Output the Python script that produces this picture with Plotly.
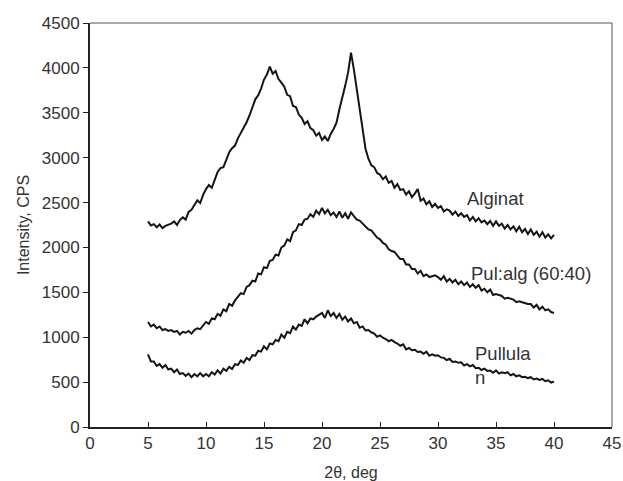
import numpy as np
import plotly.graph_objects as go

two_theta = np.arange(5.0, 40.0001, 0.25)

alginat = [
    2290, 2245, 2260, 2225,
    2255, 2215, 2240, 2250,
    2265, 2290, 2250, 2305,
    2335, 2310, 2395, 2420,
    2470, 2525, 2495, 2585,
    2650, 2695, 2665, 2765,
    2840, 2885, 2895, 2975,
    3060, 3105, 3135, 3215,
    3270, 3335, 3395, 3470,
    3555, 3650, 3695, 3770,
    3870, 3925, 4015, 3935,
    3965, 3875, 3835, 3790,
    3700, 3685, 3575, 3565,
    3480, 3445, 3375, 3405,
    3330, 3305, 3245, 3275,
    3195, 3235, 3185, 3265,
    3320, 3390, 3540, 3660,
    3800, 3950, 4170, 3980,
    3760, 3540, 3320, 3100,
    2990, 2915, 2895, 2830,
    2810, 2760, 2790, 2720,
    2740, 2665, 2705, 2640,
    2650, 2590, 2625, 2560,
    2600, 2650, 2520, 2545,
    2480, 2515, 2450, 2485,
    2440, 2460, 2400, 2425,
    2410, 2365, 2400, 2350,
    2380, 2340, 2360, 2300,
    2340, 2290, 2325, 2280,
    2300, 2260, 2295, 2240,
    2290, 2240, 2265, 2210,
    2250, 2200, 2235, 2180,
    2230, 2170, 2205, 2150,
    2200, 2140, 2175, 2120,
    2170, 2110, 2145, 2100,
    2140,
]

pul_alg = [
    1170, 1120, 1140, 1100,
    1120, 1080, 1090, 1070,
    1080, 1060, 1070, 1030,
    1060, 1050, 1070, 1040,
    1080, 1100, 1090, 1130,
    1170, 1150, 1210, 1200,
    1260, 1240, 1310, 1290,
    1370, 1350, 1410, 1450,
    1490, 1480, 1560, 1580,
    1630, 1620, 1710, 1700,
    1780, 1770, 1850, 1860,
    1920, 1910, 2000, 2020,
    2090, 2070, 2170, 2190,
    2260, 2250, 2310, 2320,
    2370, 2340, 2410, 2370,
    2440, 2380, 2420, 2360,
    2390, 2340, 2400, 2330,
    2380, 2320, 2390, 2350,
    2310, 2300, 2270, 2230,
    2200, 2190, 2150, 2110,
    2090, 2050, 2030, 1980,
    1960, 1950, 1910, 1870,
    1870, 1810, 1810, 1760,
    1760, 1710, 1740, 1680,
    1700, 1670, 1680, 1690,
    1670, 1640, 1680, 1620,
    1650, 1610, 1640, 1590,
    1620, 1580, 1610, 1560,
    1590, 1550, 1580, 1520,
    1540, 1500, 1530, 1470,
    1480, 1470, 1460, 1430,
    1440, 1430, 1420, 1390,
    1400, 1390, 1380, 1370,
    1370, 1330, 1360, 1310,
    1340, 1300, 1310, 1280,
    1270,
]

pullulan = [
    810, 730, 730, 680,
    700, 660, 690, 640,
    650, 610, 640, 590,
    600, 570, 595, 555,
    590, 565, 600, 565,
    590, 565, 610, 585,
    630, 595, 650, 625,
    670, 645, 700, 690,
    740, 715, 770, 745,
    800, 795, 850, 840,
    900, 865, 930, 920,
    970, 955, 1030, 995,
    1060, 1045, 1120, 1085,
    1140, 1125, 1200, 1155,
    1210, 1200, 1230, 1250,
    1270, 1215, 1300, 1235,
    1270, 1215, 1260, 1195,
    1230, 1175, 1210, 1155,
    1170, 1105, 1120, 1075,
    1080, 1055, 1040, 1005,
    1020, 995, 980, 955,
    970, 945, 930, 905,
    920, 865, 880, 855,
    860, 835, 840, 815,
    840, 795, 810, 795,
    800, 775, 770, 745,
    760, 725, 730, 715,
    720, 685, 700, 675,
    690, 655, 660, 635,
    650, 625, 630, 605,
    630, 595, 610, 600,
    610, 575, 590, 565,
    575, 555, 560, 545,
    555, 530, 540, 525,
    535, 510, 520, 495,
    505,
]

series_names = ["Alginat", "Pul:alg (60:40)", "Pullula<br>n"]
label_x = [32.3, 32.7, 33.05]
label_y = [2540, 1715, 690]

x_ticks = [0, 5, 10, 15, 20, 25, 30, 35, 40, 45]
y_ticks = [0, 500, 1000, 1500, 2000, 2500, 3000, 3500, 4000, 4500]

font = "Liberation Sans, Arial, sans-serif"
fig = go.Figure()
for ys in (alginat, pul_alg, pullulan):
    fig.add_trace(go.Scatter(x=two_theta, y=ys, mode="lines",
                             line=dict(color="#151515", width=2),
                             showlegend=False, hoverinfo="skip"))

for name, lx, ly in zip(series_names, label_x, label_y):
    fig.add_annotation(x=lx, y=ly, text=name, showarrow=False, xanchor="left",
                       yanchor="middle", align="left",
                       font=dict(family=font, size=18.5, color="#333333"))

# top and right frame lines
fig.add_shape(type="line", xref="paper", yref="paper", x0=0, x1=1, y0=1, y1=1,
              line=dict(color="#555555", width=1))
fig.add_shape(type="line", xref="paper", yref="paper", x0=1, x1=1, y0=0, y1=1,
              line=dict(color="#555555", width=1))

fig.update_layout(
    width=623, height=481,
    margin=dict(l=90, r=11, t=23, b=54),
    paper_bgcolor="white", plot_bgcolor="white",
    font=dict(family=font, size=17, color="#333333"),
    xaxis=dict(range=[0, 45], tickvals=x_ticks, showgrid=False, zeroline=False,
               automargin=False,
               showline=True, linecolor="#222222", linewidth=2,
               ticks="inside", ticklen=5, tickcolor="#222222",
               tickfont=dict(size=17),
               title=dict(text="2θ, deg", font=dict(size=16), standoff=15)),
    yaxis=dict(range=[0, 4500], tickvals=y_ticks, showgrid=False, zeroline=False,
               automargin=False,
               showline=True, linecolor="#222222", linewidth=2,
               ticks="outside", ticklen=5, tickcolor="#222222",
               tickfont=dict(size=17),
               title=dict(text="Intensity, CPS", font=dict(size=16), standoff=8)),
)

fig.write_html(
    "out.html",
    config={"displayModeBar": False},
    post_script="document.body.style.margin='0';document.body.style.overflow='hidden';",
)
